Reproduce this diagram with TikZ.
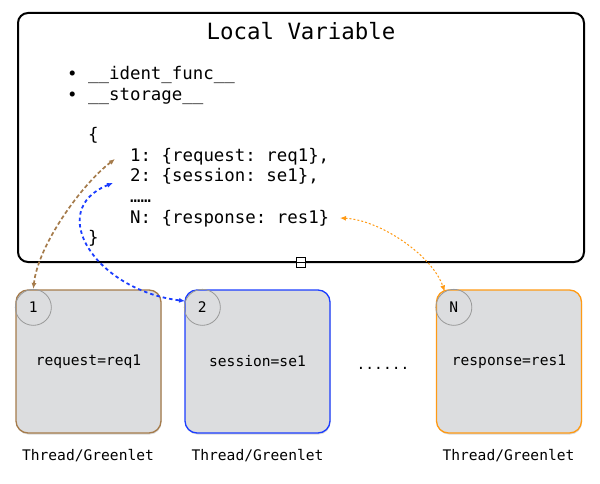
\documentclass[tikz,border=0pt]{standalone}
\usepackage{fontspec}
\setmonofont{DejaVu Sans Mono}
\usetikzlibrary{arrows.meta,shadows}
\definecolor{threadbrown}{HTML}{A57B4B}
\definecolor{threadblue}{HTML}{1B3DFF}
\definecolor{threadorange}{HTML}{FF9A14}
\definecolor{threadgray}{HTML}{DCDDDF}
\begin{document}
\begin{tikzpicture}[x=1pt, y=-1pt,
    thread/.style={draw, line width=1.3pt, fill=threadgray, rounded corners=12pt,
        minimum width=145pt, minimum height=143pt, inner sep=0pt,
        font=\ttfamily\fontsize{14.6}{17}\selectfont,
        drop shadow={shadow xshift=0.5pt, shadow yshift=-1.5pt, opacity=0.3}},
    num/.style={circle, draw=gray!80, line width=0.8pt, minimum size=36pt, inner sep=0pt,
        font=\ttfamily\fontsize{14.6}{17}\selectfont},
    code/.style={anchor=base west, inner sep=0pt, font=\ttfamily\fontsize{17.4}{20}\selectfont},
    small/.style={anchor=base, inner sep=0pt, font=\ttfamily\fontsize{14.6}{17}\selectfont},
    link/.style={line width=1.5pt, {Latex[length=6pt,width=5pt]}-{Latex[length=6pt,width=5pt]}}]
            \useasboundingbox (0,0) rectangle (600,484);

            % 上方的 Local Variable 大框
            \draw[line width=2pt, rounded corners=10pt] (18,13) rectangle (584,262);
            \draw[fill=white, line width=0.7pt] (296,257) rectangle (305,267);
            \draw[line width=0.7pt] (296,262) -- (305,262);
            \node[anchor=base, inner sep=0pt, font=\ttfamily\fontsize{22.4}{26}\selectfont] (title) at (301,39.5) {Local Variable};

            % 列表与字典内容
            \node[code] (b1) at (67,80) {∙ \_\_ident\_func\_\_};
            \node[code] (b2) at (67,100.5) {∙ \_\_storage\_\_};
            \node[code] (l0) at (88,141) {\{};
            \node[code] (l1) at (130,161.5) {1: \{request: req1\},};
            \node[code] (l2) at (130,182) {2: \{session: se1\},};
            \node[code] (l3) at (130,202.5) {……};
            \node[code] (lN) at (130,223) {N: \{response: res1\}};
            \node[code] (l4) at (88,243.5) {\}};

            % 下方三个线程框
            \node[thread, draw=threadbrown] (t1) at (88.5,361.5) {request=req1};
            \node[thread, draw=threadblue] (t2) at (257.5,361.5) {session=se1};
            \node[thread, draw=threadorange] (tN) at (509,361.5) {response=res1};
            \node[num] (c1) at ([shift={(18,18)}]t1.north west) {1};
            \node[num] (c2) at ([shift={(18,18)}]t2.north west) {2};
            \node[num] (cN) at ([shift={(18,18)}]tN.north west) {N};
            \node[small] (dots) at (383,369) {......};

            % 线程名称
            \node[small] (g1) at (88,460) {Thread/Greenlet};
            \node[small] (g2) at (257.5,460) {Thread/Greenlet};
            \node[small] (gN) at (508.5,460) {Thread/Greenlet};

            % 双向虚线箭头
            \coordinate (k1) at (115,159);
            \coordinate (k2) at (113,183);
            \coordinate (kN) at (340,218);
            \draw[link, threadbrown, line width=1.7pt, dash pattern=on 4pt off 2.5pt] (k1) .. controls (82,184) and (38,245) .. (c1.north);
            \draw[link, threadblue, line width=1.8pt, dash pattern=on 3.5pt off 3pt] (k2) .. controls (45,210) and (95,290) .. (c2.160);
            \draw[link, threadorange, line width=1pt, dash pattern=on 2pt off 2pt] (kN) .. controls (380,220) and (432,255) .. (cN.120);
        \end{tikzpicture}
\end{document}
